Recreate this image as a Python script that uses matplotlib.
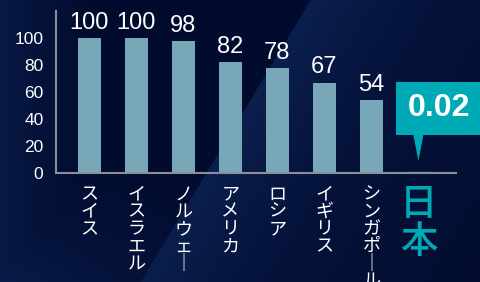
import numpy as np
import matplotlib
matplotlib.use('Agg')
import matplotlib.pyplot as plt

plt.rcParams['font.family'] = ['Noto Sans CJK JP', 'DejaVu Sans']
numFont = ['Liberation Sans', 'DejaVu Sans']

countries = ['スイス', 'イスラエル', 'ノルウェー', 'アメリカ', 'ロシア', 'イギリス', 'シンガポール', '日本']
values = [100, 100, 98, 82, 78, 67, 54, 0.02]
yticks = [0, 20, 40, 60, 80, 100]

barColor = '#78a8b8'
teal = '#00a9b6'
spineColor = '#8a8f9a'

W, H = 481, 282
fig = plt.figure(figsize=(W/100., H/100.), dpi=100)

# background gradient with a lighter diagonal band
bg = fig.add_axes([0, 0, 1, 1], zorder=-1)
yy, xx = np.mgrid[0:H, 0:W].astype(float)
dark = np.array([1, 11, 46]) / 255.
light = np.array([11, 31, 78]) / 255.
# line from (310,0) to (140,282)
lineX = 310 - 170 * yy / H
d = xx - lineX
t = np.where(d > 0, np.exp(-d / 150.), 0.0)
t = np.maximum(t, np.clip(1 - xx / 90., 0, 1) * 0.7)
t = np.maximum(t, np.clip((yy - 150) / 132., 0, 1) * np.clip(1 - xx / 260., 0, 1) * 0.8)
img = dark[None, None, :] * (1 - t[..., None]) + light[None, None, :] * t[..., None]
bg.imshow(img, aspect='auto', extent=[0, W, H, 0])
bg.axis('off')

ax = fig.add_axes([56./W, (H-173.)/H, 400./W, 162./H])
ax.patch.set_alpha(0)

x = np.arange(len(countries))
colors = [barColor]*(len(countries)-1) + [teal]
bars = ax.bar(x, values, width=0.49, color=colors, zorder=2)
bars[-1].set_edgecolor(teal)
bars[-1].set_linewidth(2.4)

for i in range(len(values)-1):
  ax.annotate('%d' % values[i], (x[i], values[i]), xytext=(0, 3), textcoords='offset points',
              ha='center', va='bottom', color='white', fontsize=17, family=numFont)

# callout for Japan
ax.annotate('', xy=(x[-1], 7), xytext=(x[-1], 31),
            arrowprops=dict(arrowstyle='wedge,tail_width=0.75,shrink_factor=0.5', color=teal, lw=0))
ax.text(x[-1]+0.44, 48, '%.2f' % values[-1], ha='center', va='center', color='white',
        fontsize=23, fontweight='bold', family=numFont, clip_on=False,
        bbox=dict(boxstyle='square,pad=0.36', fc=teal, ec='none'))

ax.set_xlim(-0.71, 7.8)
ax.set_ylim(0, 120)
ax.set_yticks(yticks)
ax.set_yticklabels([str(v) for v in yticks], color='white', fontsize=12.5, family=numFont)

def vertical(s):
  return '\n'.join(s.replace('ー', '｜'))

ax.set_xticks(x)
ax.set_xticklabels([vertical(c) for c in countries], color='white', fontsize=13, va='top', linespacing=0.95)
jp = ax.get_xticklabels()[-1]
jp.set_color(teal)
jp.set_fontsize(27)
jp.set_fontweight('medium')
jp.set_linespacing(1.0)

ax.tick_params(axis='both', length=0)
ax.tick_params(axis='x', pad=9)
ax.tick_params(axis='y', pad=9)
for s in ['top', 'right']:
  ax.spines[s].set_visible(False)
for s in ['left', 'bottom']:
  ax.spines[s].set_color(spineColor)
  ax.spines[s].set_linewidth(1.5)

fig.savefig('out.png', dpi=100)
